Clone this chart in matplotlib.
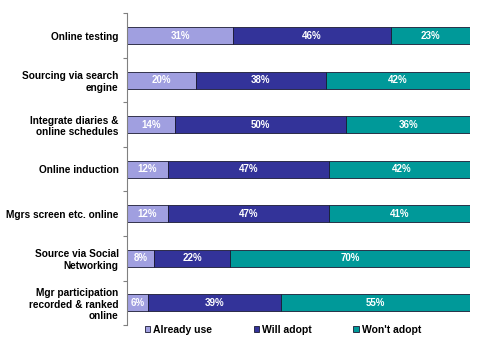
import matplotlib
matplotlib.use("Agg")
import matplotlib.pyplot as plt
import numpy as np

categories = ["Online testing", "Sourcing via search\nengine", "Integrate diaries &\nonline schedules",
              "Online induction", "Mgrs screen etc. online", "Source via Social\nNetworking",
              "Mgr participation\nrecorded & ranked\nonline"]
already = [31, 20, 14, 12, 12, 8, 6]
will = [46, 38, 50, 47, 47, 22, 39]
wont = [23, 42, 36, 42, 41, 70, 55]
series_names = ["Already use", "Will adopt", "Won't adopt"]
colors = ["#a09fe0", "#333399", "#009999"]

plt.rcParams['font.family'] = ['Liberation Sans', 'DejaVu Sans']
fig = plt.figure(figsize=(4.78, 3.44), dpi=100)
ax = fig.add_axes([0.2657, 0.0552, 0.7173, 0.9056])

y = np.arange(len(categories))
left = np.zeros(len(categories))
for vals, c, name in zip([already, will, wont], colors, series_names):
    vals = np.array(vals, dtype=float)
    ax.barh(y, vals, left=left, height=0.39, color=c, edgecolor="#1a1a33", linewidth=0.6, label=name)
    for yi, l, v in zip(y, left, vals):
        ax.text(l + v / 2, yi, f"{int(v)}%", ha="center", va="center", color="white",
                fontsize=7, fontweight="bold")
    left += vals

ax.set_ylim(len(categories) - 0.5, -0.5)
ax.set_xlim(0, 100)
ax.set_yticks(y)
ax.set_yticklabels(categories, fontsize=7.3, fontweight="bold")
ax.tick_params(axis="y", which="major", length=0, pad=6)
ax.set_yticks(np.arange(-0.5, len(categories), 1), minor=True)
ax.tick_params(axis="y", which="minor", length=3, width=0.8, color="#808080")
ax.set_xticks([])
for s in ["top", "right", "bottom"]:
    ax.spines[s].set_visible(False)
ax.spines["left"].set_color("#808080")
ax.spines["left"].set_linewidth(0.8)

handles, labels = ax.get_legend_handles_labels()
leg = fig.legend(handles, labels, loc="center", bbox_to_anchor=(0.592, 0.041), ncol=3, frameon=False,
                 fontsize=7.5, handlelength=0.5, handleheight=0.5, handletextpad=0.3, columnspacing=4.0)
for t in leg.get_texts():
    t.set_fontweight("bold")

fig.savefig("out.png", dpi=100)
